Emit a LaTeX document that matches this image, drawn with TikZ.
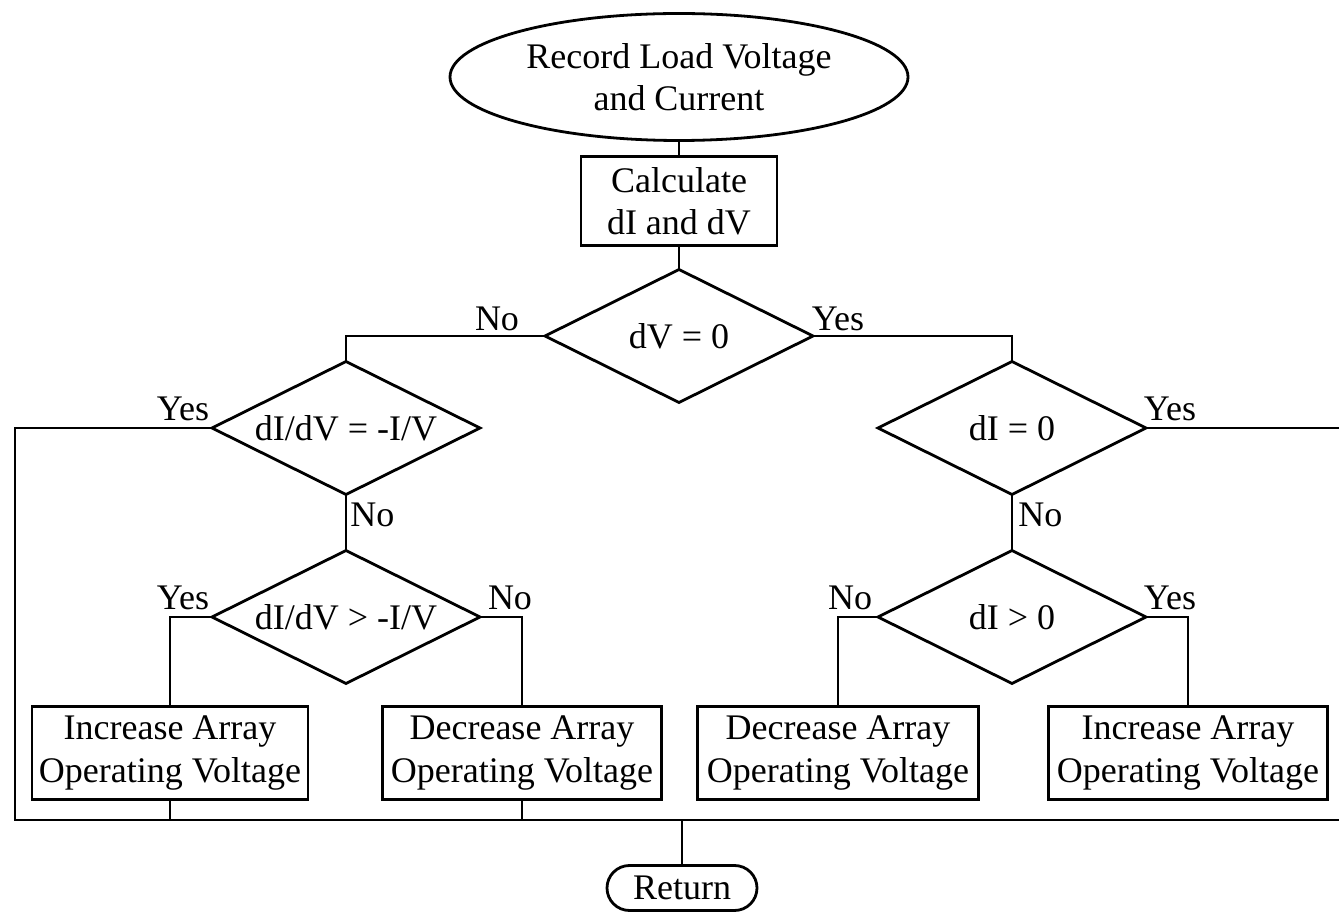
\documentclass[tikz,border=0pt]{standalone}
\usepackage{fontspec}
\setmainfont{Liberation Serif}
\usetikzlibrary{shapes.geometric,shapes.misc}
\begin{document}
\begin{tikzpicture}[x=0.5pt,y=-0.5pt,
  every node/.style={font=\fontsize{18}{21}\selectfont},
  line/.style={draw=black,line width=1.4pt},
  startnode/.style={ellipse,draw,line width=1.4pt,minimum width=229pt,minimum height=63.5pt,inner sep=0pt,align=center},
  procbox/.style={rectangle,draw,line width=1.4pt,minimum width=138pt,minimum height=46.5pt,inner sep=0pt,align=center},
  dia/.style={diamond,draw,line width=1.4pt,minimum width=134pt,minimum height=66.5pt,inner sep=0pt,outer sep=0pt},
  lbl/.style={inner sep=0pt,anchor=base},
  endnode/.style={rounded rectangle,draw,line width=1.4pt,minimum width=75pt,minimum height=22.5pt,inner sep=0pt}
]
\useasboundingbox (0,0) rectangle (1339,914);
\fill[white] (0,0) rectangle (1339,914);

\node[startnode] (ell) at (679,77) {Record Load Voltage\\and Current};
\node[procbox,minimum width=98pt,minimum height=44.5pt] (calc) at (679,201) {Calculate\\dI and dV};

\node[dia] (d1) at (679,336) {};
\node at (d1) {dV = 0};
\node[dia] (d2) at (346,428) {};
\node at (d2) {dI/dV = -I/V};
\node[dia] (d4) at (346,617) {};
\node at (d4) {dI/dV > -I/V};
\node[dia] (d3) at (1012,428) {};
\node at (d3) {dI = 0};
\node[dia] (d5) at (1012,617) {};
\node at (d5) {dI > 0};

\node[procbox] (b1) at (170,753) {Increase Array\\Operating Voltage};
\node[procbox,minimum width=139.5pt] (b2) at (522,753) {Decrease Array\\Operating Voltage};
\node[procbox,minimum width=140.5pt] (b3) at (838,753) {Decrease Array\\Operating Voltage};
\node[procbox,minimum width=139.5pt] (b4) at (1188,753) {Increase Array\\Operating Voltage};

\node[endnode] (ret) at (682,888) {Return};

\coordinate (lt) at (15,428);
\coordinate (lb) at (15,820);
\coordinate (rb) at (1345,820);
\coordinate (rt) at (1345,428);

\draw[line] (ell) -- (calc);
\draw[line] (calc) -- (d1);
\draw[line] (d1.west) -| (d2.north);
\draw[line] (d1.east) -| (d3.north);
\draw[line] (d2.south) -- (d4.north);
\draw[line] (d3.south) -- (d5.north);
\draw[line] (d4.west) -| (b1.north);
\draw[line] (d4.east) -| (b2.north);
\draw[line] (d5.west) -| (b3.north);
\draw[line] (d5.east) -| (b4.north);
\draw[line] (d2.west) -- (lt) -- (lb) -- (rb) -- (rt) -- (d3.east);
\draw[line] (b1.south) -- (b1.south |- lb);
\draw[line] (b2.south) -- (b2.south |- lb);
\draw[line] (ret.north) -- (ret.north |- lb);

\node[lbl] at (497,331) {No};
\node[lbl] at (838,331) {Yes};
\node[lbl] at (183,421) {Yes};
\node[lbl,anchor=base west] at (350,527) {No};
\node[lbl] at (183,610) {Yes};
\node[lbl] at (510,610) {No};
\node[lbl] at (1170,421) {Yes};
\node[lbl,anchor=base west] at (1018,527) {No};
\node[lbl] at (850,610) {No};
\node[lbl] at (1170,610) {Yes};
\end{tikzpicture}
\end{document}
